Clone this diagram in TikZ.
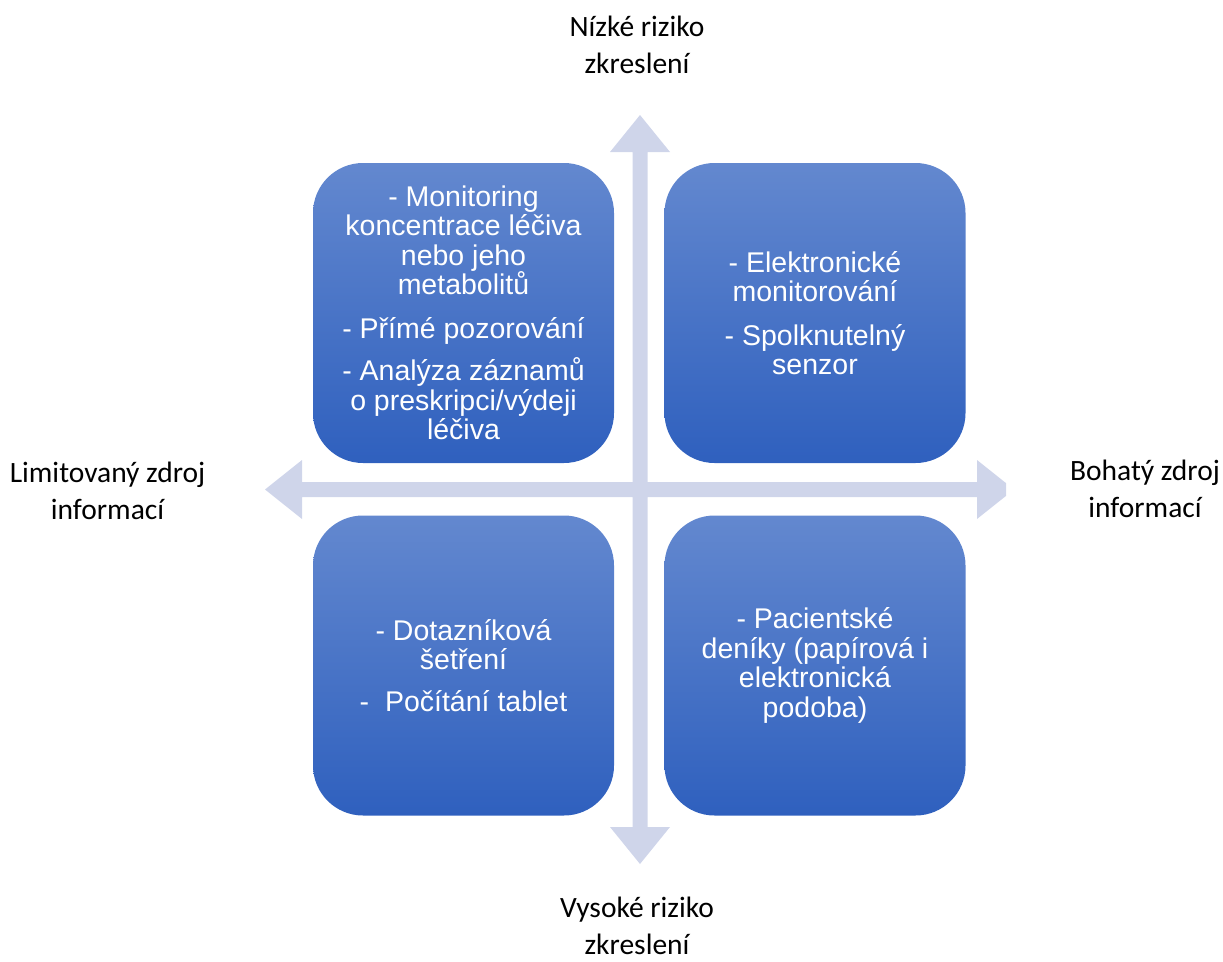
\documentclass[tikz,border=0pt]{standalone}
\usepackage{fontspec}
\newfontfamily\boxfont{Liberation Sans}
\newfontfamily\labfont{Carlito}
\definecolor{boxtop}{RGB}{99,136,207}
\definecolor{boxbot}{RGB}{47,96,190}
\definecolor{arrowc}{RGB}{207,213,234}
\tikzset{
  qbox/.style={minimum width=301pt, minimum height=300pt, inner sep=0pt,
    rounded corners=50pt, top color=boxtop, bottom color=boxbot,
    text=white, align=center, font=\boxfont\fontsize{28.5}{29.5}\selectfont},
  axlabel/.style={align=center, inner sep=0pt, text=black,
    font=\labfont\fontsize{29.5}{37}\selectfont},
  crossarrow/.style={fill=arrowc, draw=none}
}
\begin{document}
\begin{tikzpicture}[x=1pt, y=-1pt]
\useasboundingbox (0,0) rectangle (1223,961);
% quad arrow
\fill[crossarrow] (640,115) -- (670,152) -- (647.5,152) -- (647.5,482) -- (977,482) -- (977,460)
  -- (1006,483.1) -- (1006,495.9) -- (977,519) -- (977,497) -- (647.5,497) -- (647.5,827)
  -- (670,827) -- (640,864) -- (610,827) -- (632.5,827) -- (632.5,497) -- (302,497)
  -- (302,519) -- (265,489.5) -- (302,460) -- (302,482) -- (632.5,482) -- (632.5,152)
  -- (610,152) -- cycle;
% boxes
\node[qbox] (tl) at (463.5,313) {- Monitoring\\koncentrace léčiva\\nebo jeho\\metabolitů\\[14pt]- Přímé pozorování\\[13pt]- Analýza záznamů\\o preskripci/výdeji\\léčiva};
\node[qbox] (tr) at (815,313) {- Elektronické\\monitorování\\[14pt]- Spolknutelný\\senzor};
\node[qbox] (bl) at (463.5,665.5) {- Dotazníková\\šetření\\[12pt]-\ \ Počítání tablet};
\node[qbox] (br) at (815,665.5) {- Pacientské\\deníky (papírová i\\elektronická\\podoba)};
% axis labels
\node[axlabel] (top) at (637,44.5) {Nízké riziko\\zkreslení};
\node[axlabel] (bottom) at (637,926) {Vysoké riziko\\zkreslení};
\node[axlabel] (left) at (107.5,490.5) {Limitovaný zdroj\\informací};
\node[axlabel] (right) at (1145,489) {Bohatý zdroj\\informací};
\end{tikzpicture}
\end{document}
